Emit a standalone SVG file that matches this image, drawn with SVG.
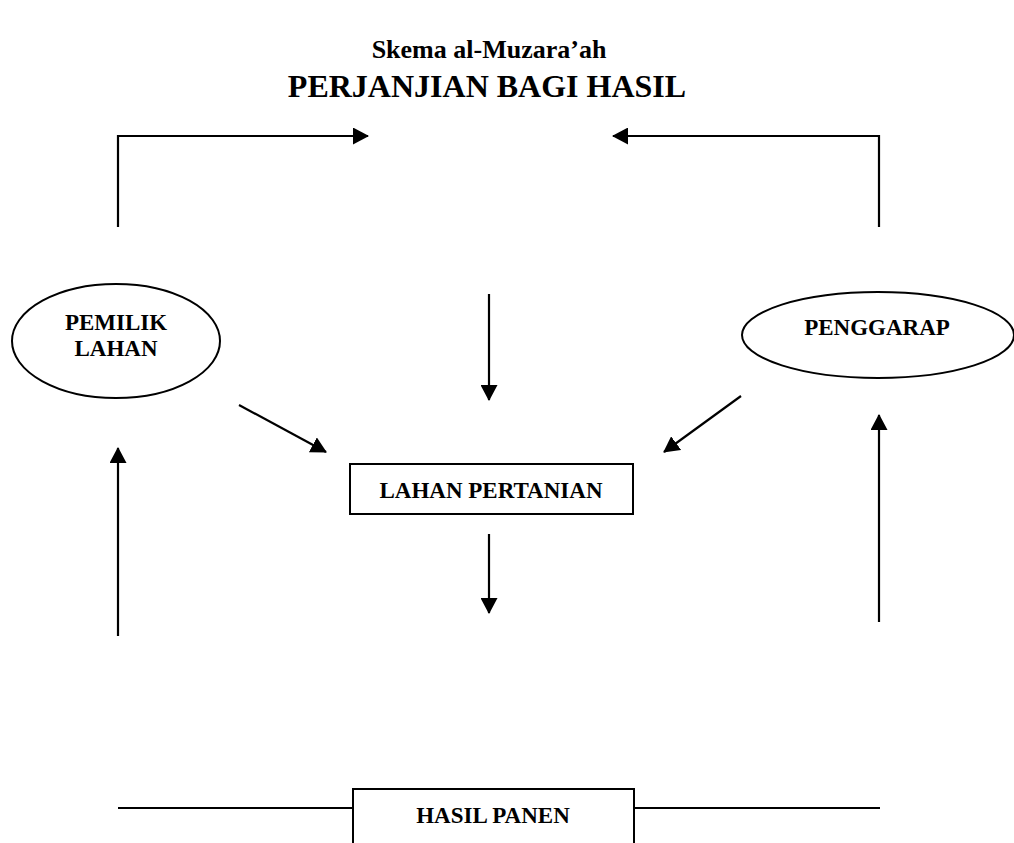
<svg xmlns="http://www.w3.org/2000/svg" width="1014" height="843" viewBox="0 0 1014 843">
<style>
text{font-family:"Liberation Serif","Times New Roman",serif;font-weight:bold;fill:#000;text-anchor:middle}
.lbl{font-size:23px}
.ln{stroke:#000;stroke-width:2.2;fill:none}
.shape{stroke:#000;stroke-width:2;fill:#fff}
</style>
<defs>
<marker id="ah" markerUnits="userSpaceOnUse" markerWidth="16" markerHeight="17" viewBox="0 0 16 17" refX="15" refY="8.5" orient="auto">
<path d="M0,0 L16,8.5 L0,17 Z" fill="#000"/>
</marker>
</defs>
<g id="title">
<text x="489" y="58" style="font-size:26px">Skema al-Muzara’ah</text>
<text x="487" y="97" style="font-size:32px">PERJANJIAN BAGI HASIL</text>
</g>
<g id="connectors">
<polyline class="ln" points="118,227 118,136 368,136" marker-end="url(#ah)"/>
<polyline class="ln" points="879,227 879,136 613,136" marker-end="url(#ah)"/>
<line class="ln" x1="489" y1="294" x2="489" y2="400" marker-end="url(#ah)"/>
<line class="ln" x1="239" y1="405" x2="326" y2="452" marker-end="url(#ah)"/>
<line class="ln" x1="741" y1="396" x2="664" y2="452" marker-end="url(#ah)"/>
<line class="ln" x1="489" y1="534" x2="489" y2="613" marker-end="url(#ah)"/>
<line class="ln" x1="118" y1="636" x2="118" y2="448" marker-end="url(#ah)"/>
<line class="ln" x1="879" y1="622" x2="879" y2="415" marker-end="url(#ah)"/>
<line class="ln" x1="118" y1="808" x2="353" y2="808"/>
<line class="ln" x1="634" y1="808" x2="880" y2="808"/>
</g>
<g id="pemilik-lahan">
<ellipse class="shape" cx="116" cy="341" rx="104" ry="57"/>
<text class="lbl" x="116" y="330">PEMILIK</text>
<text class="lbl" x="116" y="356">LAHAN</text>
</g>
<g id="penggarap">
<ellipse class="shape" cx="878" cy="335" rx="136" ry="43"/>
<text class="lbl" x="877" y="335">PENGGARAP</text>
</g>
<g id="lahan-pertanian">
<rect class="shape" x="350" y="464" width="283" height="50"/>
<text class="lbl" x="491" y="498">LAHAN PERTANIAN</text>
</g>
<g id="hasil-panen">
<rect class="shape" x="353" y="789" width="281" height="60"/>
<text class="lbl" x="493" y="823">HASIL PANEN</text>
</g>
</svg>
